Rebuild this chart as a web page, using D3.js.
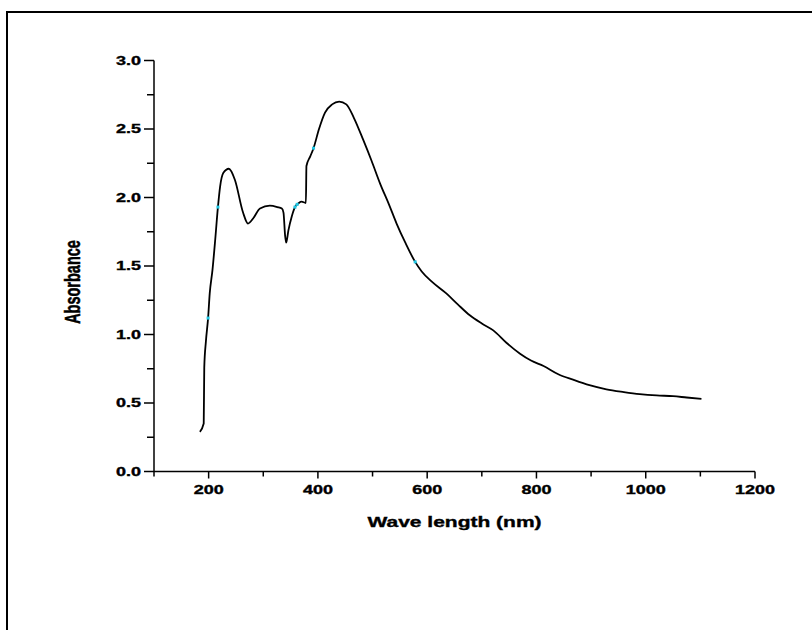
<!DOCTYPE html>
<html>
<head>
<meta charset="utf-8">
<script src="https://cdnjs.cloudflare.com/ajax/libs/d3/7.8.5/d3.min.js"></script>
<style>
  body { margin: 0; background: #fff; }
  svg { display: block; }
</style>
</head>
<body>
<div id="chart"></div>
<script>
// spectrum
var wavelength = [184,191,192,195,199,202,207,212,217,221,227,237,248,263,272,282,294,312,326,334,337,340,342,346,352,358,365,370,378,379,386,392,402,413,426,439,452,466,483,498,514,530,544,560,578,590,610,635,656,678,700,721,745,770,790,813,840,867,897,928,960,989,1020,1050,1075,1102];
var absorbance = [0.29,0.35,0.76,0.95,1.12,1.30,1.47,1.69,1.93,2.08,2.18,2.21,2.13,1.89,1.81,1.85,1.92,1.94,1.93,1.92,1.89,1.72,1.67,1.76,1.86,1.93,1.96,1.97,1.96,2.23,2.30,2.36,2.50,2.62,2.68,2.70,2.68,2.58,2.42,2.27,2.10,1.95,1.81,1.67,1.53,1.46,1.38,1.30,1.22,1.14,1.08,1.03,0.94,0.86,0.81,0.77,0.71,0.67,0.63,0.60,0.58,0.565,0.555,0.55,0.54,0.53];

// small cyan markers sitting on the curve
var markerX = [199,217,358,362,392,578];
var markerY = [1.12,1.93,1.93,1.95,2.36,1.53];

var xTicks = [200,400,600,800,1000,1200],
    yTicks = [0.0,0.5,1.0,1.5,2.0,2.5,3.0];

var width = 812, height = 630;

// the original figure was stretched sideways, text included
var stretch = 1.5;

var svg = d3.select('#chart').append('svg')
  .attr('width', width)
  .attr('height', height);

// page frame
svg.append('path')
  .attr('d', 'M7,' + height + 'V12H' + width)
  .attr('fill', 'none')
  .attr('stroke', '#000')
  .attr('stroke-width', 2);

var x = d3.scaleLinear().domain([100, 1200]).range([154, 755]),
    y = d3.scaleLinear().domain([0, 3]).range([471.5, 60.5]);

var font = "'Liberation Sans', Arial, sans-serif";

function label(sel){
  sel.attr('font-family', font)
    .attr('font-weight', 'bold')
    .attr('fill', '#000')
    .attr('stroke', '#000')
    .attr('stroke-width', 0.35);
}

// x axis
var xAxis = svg.append('g').attr('transform', 'translate(0,' + y(0) + ')');
xAxis.append('line')
  .attr('x1', x(100)).attr('x2', x(1200))
  .attr('stroke', '#000').attr('stroke-width', 1.5);
xAxis.selectAll('.xminor')
  .data(d3.range(100, 1201, 100))
  .enter().append('line')
  .attr('x1', function(d){ return x(d); })
  .attr('x2', function(d){ return x(d); })
  .attr('y1', 0)
  .attr('y2', function(d){ return d % 200 == 0 ? 7 : 5; })
  .attr('stroke', '#000').attr('stroke-width', 1.5);
xAxis.selectAll('.xlabel')
  .data(xTicks)
  .enter().append('text')
  .attr('transform', function(d){ return 'translate(' + x(d) + ',22) scale(' + stretch + ',1)'; })
  .attr('text-anchor', 'middle')
  .attr('font-size', 12)
  .call(label)
  .text(function(d){ return d; });

// y axis
var yAxis = svg.append('g').attr('transform', 'translate(' + x(100) + ',0)');
yAxis.append('line')
  .attr('y1', y(0)).attr('y2', y(3))
  .attr('stroke', '#000').attr('stroke-width', 1.5);
yAxis.selectAll('.yminor')
  .data(d3.range(0, 3.01, 0.25))
  .enter().append('line')
  .attr('y1', function(d){ return y(d); })
  .attr('y2', function(d){ return y(d); })
  .attr('x1', function(d){ return Math.round(d * 4) % 2 == 0 ? -10 : -7; })
  .attr('x2', 0)
  .attr('stroke', '#000').attr('stroke-width', 1.5);
yAxis.selectAll('.ylabel')
  .data(yTicks)
  .enter().append('text')
  .attr('transform', function(d){ return 'translate(-13,' + (y(d) + 4) + ') scale(' + stretch + ',1)'; })
  .attr('text-anchor', 'end')
  .attr('font-size', 12)
  .call(label)
  .text(function(d){ return d.toFixed(1); });

// axis titles
svg.append('text')
  .attr('transform', 'translate(' + x(650) + ',527) scale(' + stretch + ',1)')
  .attr('text-anchor', 'middle')
  .attr('font-size', 14)
  .call(label)
  .text('Wave length (nm)');

svg.append('text')
  .attr('transform', 'translate(80,282) scale(' + stretch + ',1) rotate(-90)')
  .attr('text-anchor', 'middle')
  .attr('font-size', 14.5)
  .call(label)
  .text('Absorbance');

// curve
var pts = wavelength.map(function(w, i){ return [w, absorbance[i]]; });
var line = d3.line()
  .x(function(d){ return x(d[0]); })
  .y(function(d){ return y(d[1]); })
  .curve(d3.curveMonotoneX);

svg.append('path')
  .attr('d', line(pts))
  .attr('fill', 'none')
  .attr('stroke', '#000')
  .attr('stroke-width', 1.8);

svg.selectAll('.marker')
  .data(markerX)
  .enter().append('rect')
  .attr('x', function(d){ return x(d) - 1.5; })
  .attr('y', function(d, i){ return y(markerY[i]) - 1.5; })
  .attr('width', 3)
  .attr('height', 3)
  .attr('fill', '#1ec8e6');
</script>
</body>
</html>
